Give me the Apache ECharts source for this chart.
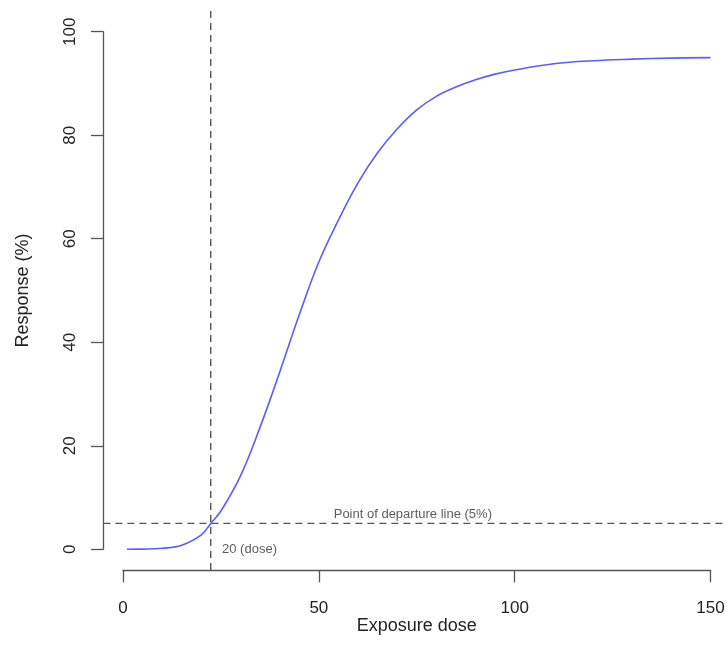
<!DOCTYPE html>
<html>
<head>
<meta charset="utf-8">
<script src="https://cdn.jsdelivr.net/npm/echarts@6/dist/echarts.min.js"></script>
<style>
html,body{margin:0;padding:0;background:#fff;}
#chart{width:727px;height:663px;}
</style>
</head>
<body>
<div id="chart"></div>
<script>
// Dose-response curve readings
var doses     = [1, 5, 10, 15, 20, 22.4, 25, 30, 35, 40, 45, 50, 55, 60, 65, 70, 75, 80, 85, 90, 95, 100, 110, 120, 130, 140, 150];
var responses = [0.0, 0.03, 0.2, 0.8, 2.8, 5.0, 7.4, 14.2, 23.6, 34.2, 45.3, 55.5, 63.6, 70.8, 76.6, 81.2, 84.9, 87.5, 89.3, 90.7, 91.8, 92.6, 93.8, 94.4, 94.7, 94.9, 95.0];

// Reference lines
var podLevel = 5;            // point of departure (%)
var podDose = 22.4;          // dose where curve crosses 5%
var hLineX = [-5, 155.2];    // extent of the horizontal dashed line (past the right edge)
var vLineY = [-4, 104];      // extent of the vertical dashed line

// Annotations
var podLabel = {x: 74, y: 6.8, text: 'Point of departure line (5%)'};
var doseLabel = {x: 32.3, y: 0, text: '20 (dose)'};

// Axis ticks
var xTicks = [0, 50, 100, 150];
var yTicks = [0, 20, 40, 60, 80, 100];

var font = 'Liberation Sans, Arial, Helvetica, sans-serif';
var axisColor = '#555';

var chart = echarts.init(document.getElementById('chart'), null, {renderer: 'canvas'});
chart.setOption({
  backgroundColor: '#fff',
  animation: false,
  grid: [
    {left: 123, right: 16.5, top: 31.7, bottom: 113.7, containLabel: false, outerBoundsMode: 'none'},
    {left: 103.4, right: -4, top: 31.7, bottom: 113.7, containLabel: false, outerBoundsMode: 'none'}
  ],
  xAxis: [{
    type: 'value', min: xTicks[0], max: xTicks[xTicks.length - 1], interval: 50,
    gridIndex: 0, offset: 21,
    name: 'Exposure dose', nameLocation: 'middle', nameGap: 47, nameMoveOverlap: false,
    nameTextStyle: {fontFamily: font, fontSize: 18, color: '#222'},
    axisLine: {show: true, onZero: false, lineStyle: {color: axisColor, width: 1.3}},
    axisTick: {show: true, length: 12, lineStyle: {color: axisColor, width: 1.3}},
    axisLabel: {fontFamily: font, fontSize: 17, color: '#222', margin: 30, showMinLabel: true, showMaxLabel: true},
    splitLine: {show: false}
  }, {
    type: 'value', gridIndex: 1, min: hLineX[0], max: hLineX[1], show: false
  }],
  yAxis: [{
    type: 'value', min: yTicks[0], max: yTicks[yTicks.length - 1], interval: 20,
    gridIndex: 0, offset: 20,
    name: 'Response (%)', nameLocation: 'middle', nameGap: 71, nameRotate: 90,
    nameTextStyle: {fontFamily: font, fontSize: 18, color: '#222'},
    axisLine: {show: true, onZero: false, lineStyle: {color: axisColor, width: 1.3}},
    axisTick: {show: true, length: 12, lineStyle: {color: axisColor, width: 1.3}},
    axisLabel: {fontFamily: font, fontSize: 17, color: '#222', margin: 24, rotate: 90, showMinLabel: true, showMaxLabel: true},
    splitLine: {show: false}
  }, {
    type: 'value', gridIndex: 1, min: yTicks[0], max: yTicks[yTicks.length - 1], show: false
  }],
  series: [
    {
      type: 'line', name: 'pod-h', xAxisIndex: 1, yAxisIndex: 1, clip: false, symbol: 'none', silent: true,
      data: hLineX.map(function (x) { return [x, podLevel]; }),
      lineStyle: {color: '#555', width: 1.4, type: [7, 5]}
    },
    {
      type: 'line', name: 'pod-v', clip: false, symbol: 'none', silent: true,
      data: vLineY.map(function (y) { return [podDose, y]; }),
      lineStyle: {color: '#555', width: 1.4, type: [7, 5]}
    },
    {
      type: 'line', name: 'curve', clip: false, symbol: 'none', smooth: 0.4, silent: true,
      data: doses.map(function (d, i) { return [d, responses[i]]; }),
      lineStyle: {color: '#5c5cff', width: 1.6}
    },
    {
      type: 'scatter', name: 'labels', clip: false, symbolSize: 0, silent: true,
      data: [
        {value: [podLabel.x, podLabel.y], label: {formatter: podLabel.text}},
        {value: [doseLabel.x, doseLabel.y], label: {formatter: doseLabel.text}}
      ],
      label: {show: true, position: 'inside', fontFamily: font, fontSize: 13, color: '#333'}
    }
  ]
});
</script>
</body>
</html>
